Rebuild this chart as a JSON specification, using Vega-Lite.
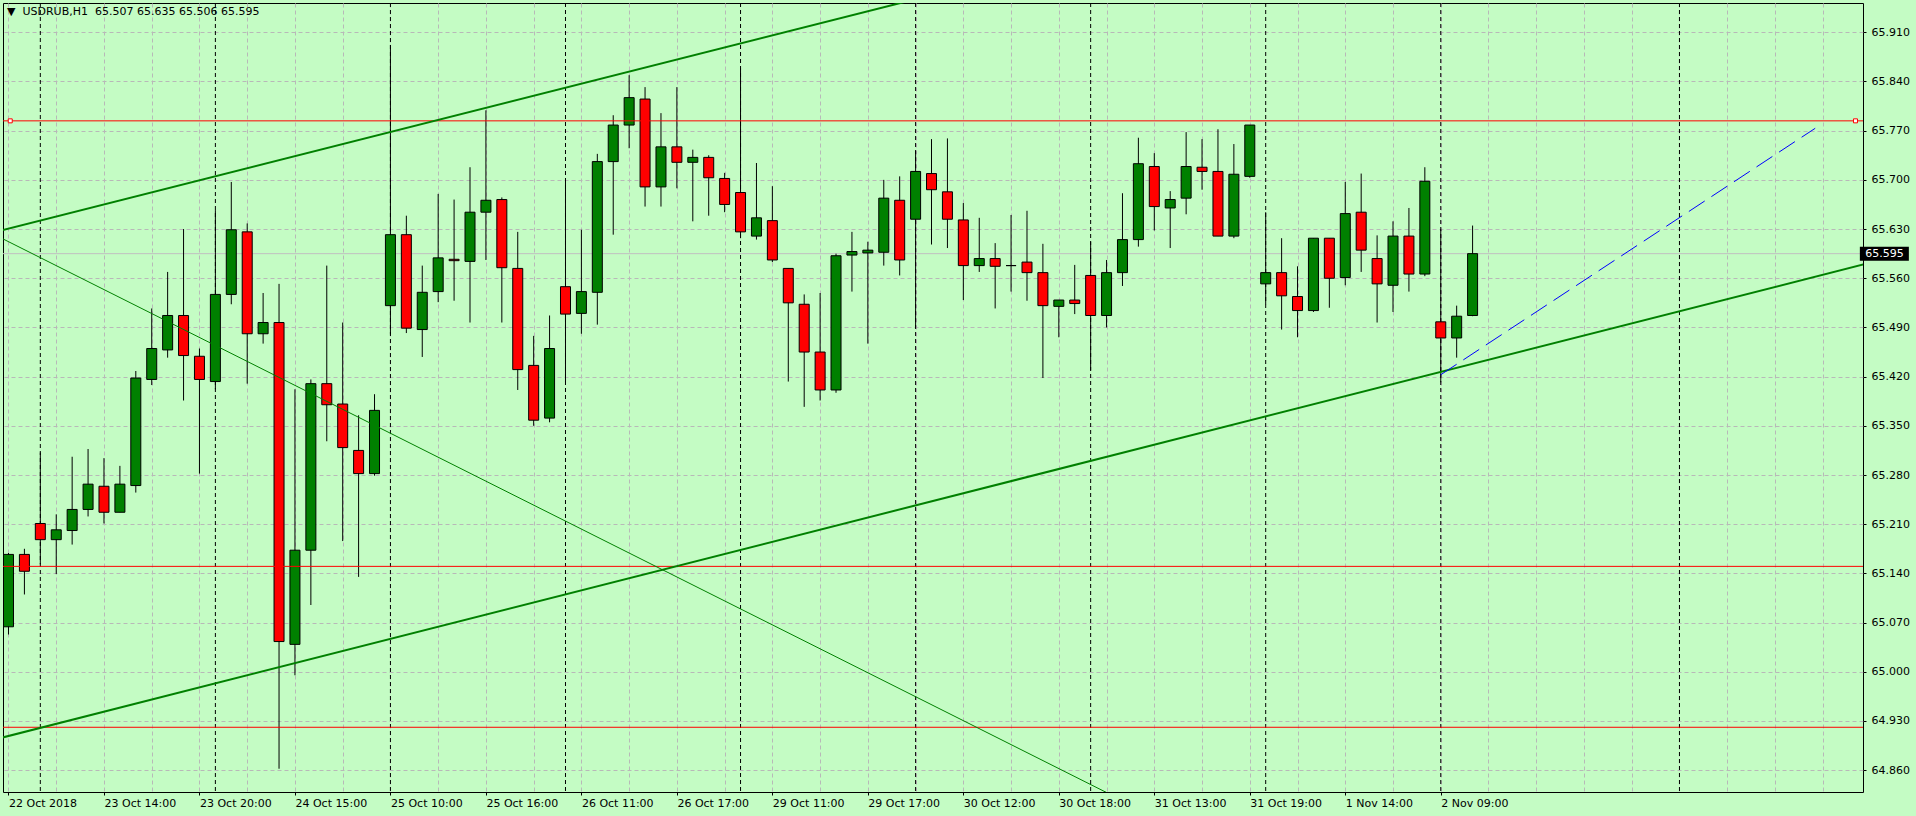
{
  "$schema": "https://vega.github.io/schema/vega-lite/v6.json",
  "width": 1860,
  "height": 789,
  "autosize": {"type": "none"},
  "padding": {"left": 3, "top": 3, "right": 53, "bottom": 24},
  "background": "#c4fcc4",
  "config": {
    "view": {"stroke": "#000000", "strokeWidth": 1, "fill": "#c4fcc4"},
    "axis": {"labelFont": "DejaVu Sans", "labelFontSize": 11, "labelColor": "#000000"}
  },
  "title": {
    "text": "▼\u00a0\u00a0USDRUB,H1\u00a0\u00a065.507 65.635 65.506 65.595",
    "anchor": "start",
    "frame": "group",
    "orient": "top",
    "offset": -14,
    "dx": 4,
    "font": "DejaVu Sans",
    "fontSize": 11,
    "fontWeight": "normal",
    "color": "#000000"
  },
  "datasets": {
    "candles": [
      {"i":0,"o":65.064,"h":65.169,"l":65.053,"c":65.167},
      {"i":1,"o":65.167,"h":65.175,"l":65.110,"c":65.143},
      {"i":2,"o":65.211,"h":65.312,"l":65.153,"c":65.188},
      {"i":3,"o":65.188,"h":65.224,"l":65.139,"c":65.202},
      {"i":4,"o":65.201,"h":65.306,"l":65.181,"c":65.231},
      {"i":5,"o":65.231,"h":65.317,"l":65.221,"c":65.267},
      {"i":6,"o":65.264,"h":65.304,"l":65.211,"c":65.227},
      {"i":7,"o":65.227,"h":65.293,"l":65.227,"c":65.267},
      {"i":8,"o":65.265,"h":65.428,"l":65.255,"c":65.418},
      {"i":9,"o":65.416,"h":65.517,"l":65.408,"c":65.460},
      {"i":10,"o":65.458,"h":65.569,"l":65.447,"c":65.507},
      {"i":11,"o":65.507,"h":65.630,"l":65.386,"c":65.450},
      {"i":12,"o":65.449,"h":65.460,"l":65.282,"c":65.416},
      {"i":13,"o":65.413,"h":65.657,"l":65.402,"c":65.537},
      {"i":14,"o":65.537,"h":65.697,"l":65.523,"c":65.629},
      {"i":15,"o":65.626,"h":65.638,"l":65.410,"c":65.481},
      {"i":16,"o":65.481,"h":65.539,"l":65.467,"c":65.497},
      {"i":17,"o":65.497,"h":65.552,"l":64.862,"c":65.043},
      {"i":18,"o":65.039,"h":65.402,"l":64.995,"c":65.173},
      {"i":19,"o":65.173,"h":65.416,"l":65.095,"c":65.410},
      {"i":20,"o":65.410,"h":65.578,"l":65.328,"c":65.380},
      {"i":21,"o":65.381,"h":65.497,"l":65.186,"c":65.319},
      {"i":22,"o":65.315,"h":65.365,"l":65.135,"c":65.282},
      {"i":23,"o":65.282,"h":65.395,"l":65.279,"c":65.372},
      {"i":24,"o":65.521,"h":65.892,"l":65.480,"c":65.622},
      {"i":25,"o":65.622,"h":65.649,"l":65.482,"c":65.489},
      {"i":26,"o":65.487,"h":65.578,"l":65.448,"c":65.540},
      {"i":27,"o":65.541,"h":65.680,"l":65.526,"c":65.589},
      {"i":28,"o":65.587,"h":65.672,"l":65.528,"c":65.585},
      {"i":29,"o":65.584,"h":65.718,"l":65.497,"c":65.654},
      {"i":30,"o":65.654,"h":65.799,"l":65.586,"c":65.671},
      {"i":31,"o":65.672,"h":65.675,"l":65.497,"c":65.575},
      {"i":32,"o":65.574,"h":65.626,"l":65.401,"c":65.430},
      {"i":33,"o":65.436,"h":65.478,"l":65.350,"c":65.358},
      {"i":34,"o":65.361,"h":65.507,"l":65.355,"c":65.460},
      {"i":35,"o":65.548,"h":65.697,"l":65.412,"c":65.509},
      {"i":36,"o":65.510,"h":65.629,"l":65.481,"c":65.541},
      {"i":37,"o":65.540,"h":65.737,"l":65.494,"c":65.726},
      {"i":38,"o":65.726,"h":65.792,"l":65.622,"c":65.778},
      {"i":39,"o":65.778,"h":65.849,"l":65.745,"c":65.817},
      {"i":40,"o":65.815,"h":65.832,"l":65.662,"c":65.690},
      {"i":41,"o":65.690,"h":65.795,"l":65.662,"c":65.747},
      {"i":42,"o":65.747,"h":65.832,"l":65.688,"c":65.725},
      {"i":43,"o":65.725,"h":65.743,"l":65.641,"c":65.732},
      {"i":44,"o":65.732,"h":65.735,"l":65.649,"c":65.703},
      {"i":45,"o":65.702,"h":65.710,"l":65.654,"c":65.665},
      {"i":46,"o":65.682,"h":65.859,"l":65.617,"c":65.626},
      {"i":47,"o":65.620,"h":65.724,"l":65.615,"c":65.646},
      {"i":48,"o":65.642,"h":65.691,"l":65.583,"c":65.586},
      {"i":49,"o":65.574,"h":65.574,"l":65.413,"c":65.525},
      {"i":50,"o":65.523,"h":65.537,"l":65.377,"c":65.455},
      {"i":51,"o":65.455,"h":65.539,"l":65.386,"c":65.401},
      {"i":52,"o":65.401,"h":65.595,"l":65.397,"c":65.592},
      {"i":53,"o":65.593,"h":65.626,"l":65.541,"c":65.598},
      {"i":54,"o":65.596,"h":65.612,"l":65.467,"c":65.600},
      {"i":55,"o":65.597,"h":65.700,"l":65.578,"c":65.674},
      {"i":56,"o":65.671,"h":65.705,"l":65.564,"c":65.586},
      {"i":57,"o":65.644,"h":65.741,"l":65.489,"c":65.712},
      {"i":58,"o":65.709,"h":65.758,"l":65.608,"c":65.686},
      {"i":59,"o":65.683,"h":65.759,"l":65.603,"c":65.644},
      {"i":60,"o":65.643,"h":65.667,"l":65.529,"c":65.578},
      {"i":61,"o":65.578,"h":65.646,"l":65.569,"c":65.588},
      {"i":62,"o":65.588,"h":65.610,"l":65.517,"c":65.577},
      {"i":63,"o":65.578,"h":65.650,"l":65.541,"c":65.578},
      {"i":64,"o":65.583,"h":65.656,"l":65.528,"c":65.568},
      {"i":65,"o":65.568,"h":65.609,"l":65.418,"c":65.521},
      {"i":66,"o":65.520,"h":65.529,"l":65.476,"c":65.529},
      {"i":67,"o":65.529,"h":65.579,"l":65.509,"c":65.524},
      {"i":68,"o":65.564,"h":65.612,"l":65.429,"c":65.507},
      {"i":69,"o":65.507,"h":65.586,"l":65.490,"c":65.568},
      {"i":70,"o":65.568,"h":65.681,"l":65.549,"c":65.615},
      {"i":71,"o":65.615,"h":65.760,"l":65.605,"c":65.723},
      {"i":72,"o":65.719,"h":65.738,"l":65.628,"c":65.662},
      {"i":73,"o":65.660,"h":65.684,"l":65.603,"c":65.672},
      {"i":74,"o":65.674,"h":65.768,"l":65.651,"c":65.719},
      {"i":75,"o":65.718,"h":65.758,"l":65.686,"c":65.712},
      {"i":76,"o":65.712,"h":65.772,"l":65.620,"c":65.620},
      {"i":77,"o":65.620,"h":65.751,"l":65.617,"c":65.708},
      {"i":78,"o":65.705,"h":65.778,"l":65.703,"c":65.778},
      {"i":79,"o":65.552,"h":65.654,"l":65.523,"c":65.568},
      {"i":80,"o":65.568,"h":65.617,"l":65.487,"c":65.535},
      {"i":81,"o":65.534,"h":65.577,"l":65.476,"c":65.514},
      {"i":82,"o":65.514,"h":65.617,"l":65.512,"c":65.617},
      {"i":83,"o":65.617,"h":65.617,"l":65.518,"c":65.560},
      {"i":84,"o":65.561,"h":65.697,"l":65.550,"c":65.652},
      {"i":85,"o":65.654,"h":65.709,"l":65.569,"c":65.600},
      {"i":86,"o":65.588,"h":65.621,"l":65.497,"c":65.552},
      {"i":87,"o":65.550,"h":65.641,"l":65.512,"c":65.620},
      {"i":88,"o":65.620,"h":65.660,"l":65.541,"c":65.566},
      {"i":89,"o":65.566,"h":65.718,"l":65.563,"c":65.698},
      {"i":90,"o":65.498,"h":65.630,"l":65.412,"c":65.475},
      {"i":91,"o":65.475,"h":65.521,"l":65.447,"c":65.506},
      {"i":92,"o":65.507,"h":65.635,"l":65.506,"c":65.595}
    ],
    "sessions": [{"i":2},{"i":13},{"i":24},{"i":35},{"i":46},{"i":57},{"i":68},{"i":79},{"i":90},{"i":105}],
    "levels": [{"p":65.784},{"p":65.150},{"p":64.921}],
    "levelEnds": [{"i":0.11,"p":65.784},{"i":116.06,"p":65.784}],
    "channel": [
      {"name":"upper","i":-1,"p":65.6249},
      {"name":"upper","i":60,"p":65.9743},
      {"name":"lower","i":-1,"p":64.9029},
      {"name":"lower","i":118,"p":65.5879}
    ],
    "thin": [{"i":-1,"p":65.6234},{"i":80,"p":64.7032}],
    "blue": [{"i":90,"p":65.4227},{"i":113.53,"p":65.7734}],
    "bid": [{"p":65.595}]
  },
  "layer": [
    {
      "data": {"name": "bid"},
      "mark": {"type": "rule", "color": "#c0c0c0", "strokeWidth": 1},
      "encoding": {
        "y": {
          "field": "p", "type": "quantitative",
          "scale": {"domain": [64.8289, 65.9517], "nice": false, "zero": false},
          "axis": {
            "orient": "right",
            "values": [64.86, 64.93, 65.0, 65.07, 65.14, 65.21, 65.28, 65.35, 65.42, 65.49, 65.56, 65.63, 65.7, 65.77, 65.84, 65.91],
            "format": ".3f",
            "grid": true, "gridColor": "#b8b8b8", "gridDash": [4, 3], "gridWidth": 1,
            "ticks": true, "tickSize": 3, "tickColor": "#000000",
            "labelPadding": 5, "labelAlign": "left", "labelBaseline": "middle",
            "labelFlush": false, "labelOverlap": false,
            "domain": false, "title": null
          }
        }
      }
    },
    {
      "data": {"name": "sessions"},
      "mark": {"type": "rule", "color": "#000000", "strokeWidth": 1, "strokeDash": [4, 3]},
      "encoding": {
        "x": {"field": "i", "type": "quantitative", "scale": {"domain": [-0.03125, 116.21875], "nice": false, "zero": false}, "axis": null}
      }
    },
    {
      "data": {"name": "candles"},
      "mark": {"type": "rule", "color": "#000000", "strokeWidth": 1, "clip": true},
      "encoding": {
        "x": {
          "field": "i", "type": "quantitative",
          "scale": {"domain": [-0.03125, 116.21875], "nice": false, "zero": false},
          "axis": {
            "orient": "bottom",
            "values": [0,3,6,9,12,15,18,21,24,27,30,33,36,39,42,45,48,51,54,57,60,63,66,69,72,75,78,81,84,87,90,93,96,99,102,105,108,111,114],
            "grid": true, "gridColor": "#b8b8b8", "gridDash": [4, 3], "gridWidth": 1,
            "labels": false, "ticks": false, "domain": false, "title": null
          }
        },
        "y": {"field": "l", "type": "quantitative", "scale": {"domain": [64.8289, 65.9517], "nice": false, "zero": false}},
        "y2": {"field": "h"}
      }
    },
    {
      "data": {"name": "candles"},
      "mark": {"type": "bar", "orient": "vertical", "width": 10, "stroke": "#000000", "strokeWidth": 1, "clip": true},
      "encoding": {
        "x": {
          "field": "i", "type": "quantitative",
          "scale": {"domain": [-0.03125, 116.21875], "nice": false, "zero": false},
          "axis": {
            "orient": "bottom",
            "values": [0,6,12,18,24,30,36,42,48,54,60,66,72,78,84,90],
            "labelExpr": "['22 Oct 2018','23 Oct 14:00','23 Oct 20:00','24 Oct 15:00','25 Oct 10:00','25 Oct 16:00','26 Oct 11:00','26 Oct 17:00','29 Oct 11:00','29 Oct 17:00','30 Oct 12:00','30 Oct 18:00','31 Oct 13:00','31 Oct 19:00','1 Nov 14:00','2 Nov 09:00'][round(datum.value / 6)]",
            "grid": false,
            "ticks": true, "tickSize": 3, "tickColor": "#000000",
            "labelAlign": "left", "labelBaseline": "middle", "labelPadding": 8,
            "labelFlush": false, "labelOverlap": false, "labelBound": false,
            "domain": false, "title": null
          }
        },
        "y": {"field": "o", "type": "quantitative", "scale": {"domain": [64.8289, 65.9517], "nice": false, "zero": false}},
        "y2": {"field": "c"},
        "fill": {"condition": {"test": "datum.c >= datum.o", "value": "#008000"}, "value": "#ff0000"}
      }
    },
    {
      "data": {"name": "levels"},
      "mark": {"type": "rule", "color": "#ff0000", "strokeWidth": 1},
      "encoding": {
        "y": {"field": "p", "type": "quantitative", "scale": {"domain": [64.8289, 65.9517], "nice": false, "zero": false}}
      }
    },
    {
      "data": {"name": "channel"},
      "mark": {"type": "line", "color": "#008000", "strokeWidth": 2, "clip": true},
      "encoding": {
        "x": {"field": "i", "type": "quantitative", "scale": {"domain": [-0.03125, 116.21875], "nice": false, "zero": false}, "axis": null},
        "y": {"field": "p", "type": "quantitative", "scale": {"domain": [64.8289, 65.9517], "nice": false, "zero": false}},
        "detail": {"field": "name"}
      }
    },
    {
      "data": {"name": "thin"},
      "mark": {"type": "line", "color": "#008000", "strokeWidth": 1, "clip": true},
      "encoding": {
        "x": {"field": "i", "type": "quantitative", "scale": {"domain": [-0.03125, 116.21875], "nice": false, "zero": false}, "axis": null},
        "y": {"field": "p", "type": "quantitative", "scale": {"domain": [64.8289, 65.9517], "nice": false, "zero": false}}
      }
    },
    {
      "data": {"name": "blue"},
      "mark": {"type": "line", "color": "#0000ff", "strokeWidth": 1, "strokeDash": [19, 8], "clip": true},
      "encoding": {
        "x": {"field": "i", "type": "quantitative", "scale": {"domain": [-0.03125, 116.21875], "nice": false, "zero": false}, "axis": null},
        "y": {"field": "p", "type": "quantitative", "scale": {"domain": [64.8289, 65.9517], "nice": false, "zero": false}}
      }
    },
    {
      "data": {"name": "levelEnds"},
      "mark": {"type": "point", "shape": "square", "size": 16, "filled": true, "fill": "#ffffff", "stroke": "#ff0000", "strokeWidth": 1, "opacity": 1},
      "encoding": {
        "x": {"field": "i", "type": "quantitative", "scale": {"domain": [-0.03125, 116.21875], "nice": false, "zero": false}, "axis": null},
        "y": {"field": "p", "type": "quantitative", "scale": {"domain": [64.8289, 65.9517], "nice": false, "zero": false}}
      }
    },
    {
      "data": {"name": "bid"},
      "mark": {"type": "rect", "width": 49, "height": 14, "fill": "#000000", "clip": false},
      "encoding": {
        "x": {"datum": 117.875, "type": "quantitative", "scale": {"domain": [-0.03125, 116.21875], "nice": false, "zero": false}, "axis": null},
        "y": {"field": "p", "type": "quantitative", "scale": {"domain": [64.8289, 65.9517], "nice": false, "zero": false}}
      }
    },
    {
      "data": {"name": "bid"},
      "mark": {"type": "text", "align": "left", "baseline": "middle", "color": "#ffffff", "font": "DejaVu Sans", "fontSize": 11, "clip": false},
      "encoding": {
        "x": {"datum": 116.68, "type": "quantitative", "scale": {"domain": [-0.03125, 116.21875], "nice": false, "zero": false}, "axis": null},
        "y": {"field": "p", "type": "quantitative", "scale": {"domain": [64.8289, 65.9517], "nice": false, "zero": false}},
        "text": {"field": "p", "type": "quantitative", "format": ".3f"}
      }
    }
  ],
  "resolve": {"axis": {"x": "independent"}}
}
